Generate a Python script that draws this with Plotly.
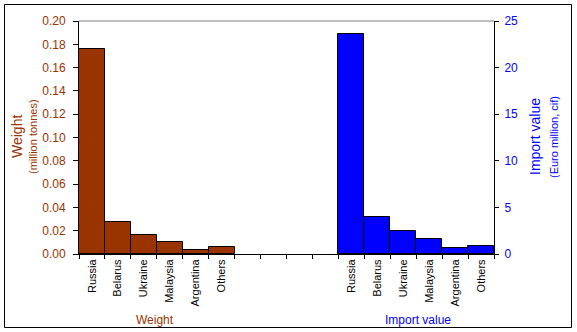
import plotly.graph_objects as go

# Source countries shown in both groups
countries = ["Russia", "Belarus", "Ukraine", "Malaysia", "Argentina", "Others"]
weight_mt = [0.1757, 0.0272, 0.0160, 0.0100, 0.0032, 0.0058]      # million tonnes
import_eur = [23.57, 3.94, 2.43, 1.58, 0.61, 0.83]                 # Euro million, cif
n_gap = 4                                                           # empty slots between groups

BROWN = "#993300"
BLUE = "#0000FF"
FONT = "Arial, Liberation Sans, sans-serif"

n = len(countries)
x_weight = list(range(n))
x_import = list(range(n + n_gap, 2 * n + n_gap))
n_slots = 2 * n + n_gap
tick_labels = countries + [""] * n_gap + countries

fig = go.Figure()
fig.add_trace(go.Bar(
    x=x_weight, y=weight_mt, width=1, yaxis="y",
    marker=dict(color=BROWN, line=dict(color="black", width=1)),
    name="Weight", showlegend=False,
))
fig.add_trace(go.Bar(
    x=x_import, y=import_eur, width=1, yaxis="y2",
    marker=dict(color=BLUE, line=dict(color="black", width=1)),
    name="Import value", showlegend=False,
))

L, R, T, B = 79, 83, 21, 78
W, H = 577, 332
pw, ph = W - L - R, H - T - B

def px_x(px):
    return (px - L) / pw

def px_y(py):
    return (H - B - py) / ph

fig.update_layout(
    width=W, height=H,
    margin=dict(l=L, r=R, t=T, b=B),
    paper_bgcolor="white", plot_bgcolor="white",
    barmode="overlay", bargap=0,
    font=dict(family=FONT, size=11, color="black"),
    xaxis=dict(
        range=[-0.5, n_slots - 0.5],
        tickmode="array", tickvals=list(range(n_slots)), ticktext=tick_labels,
        tickangle=-90, ticks="", showgrid=False, zeroline=False,
        showline=True, linecolor="black", linewidth=1,
        tickfont=dict(size=11, color="black"),
    ),
    # separate axis carrying the category-boundary tick marks
    xaxis2=dict(
        overlaying="x", side="bottom", anchor="y",
        range=[-0.5, n_slots - 0.5],
        tickmode="array", tickvals=[i - 0.5 for i in range(n_slots + 1)],
        ticktext=[""] * (n_slots + 1),
        ticks="outside", ticklen=4, tickcolor="black", tickwidth=1,
        showgrid=False, zeroline=False, showline=False,
    ),
    yaxis=dict(
        range=[0, 0.20], tickmode="array",
        tickvals=[i * 0.02 for i in range(11)],
        ticktext=[f"{i * 0.02:.2f}" for i in range(11)],
        ticks="outside", ticklen=5, tickcolor="black",
        ticklabelstandoff=5,
        showline=True, linecolor="black", linewidth=1,
        showgrid=False, zeroline=False,
        tickfont=dict(size=12, color=BROWN),
    ),
    yaxis2=dict(
        range=[0, 25], overlaying="y", side="right",
        tickmode="array", tickvals=[0, 5, 10, 15, 20, 25],
        ticks="outside", ticklen=4, tickcolor="black",
        ticklabelstandoff=3,
        showline=True, linecolor="black", linewidth=1,
        showgrid=False, zeroline=False,
        tickfont=dict(size=12, color=BLUE),
    ),
)

# dummy trace so the tick-mark axis is rendered
fig.add_trace(go.Scatter(x=[0], y=[0], xaxis="x2", mode="markers",
                         marker=dict(opacity=0), showlegend=False, hoverinfo="skip"))

# top border of the plot area and outer chart frame
fig.add_shape(type="line", xref="paper", yref="paper", x0=0, x1=1, y0=1, y1=1,
              line=dict(color="#808080", width=1))
fig.add_shape(type="rect", xref="paper", yref="paper",
              x0=px_x(4.5), x1=px_x(571.5), y0=px_y(327.5), y1=px_y(4.5),
              line=dict(color="black", width=1), fillcolor="rgba(0,0,0,0)", layer="below")

ann = [
    dict(text="Weight", x=px_x(17), y=px_y(137), size=14, color=BROWN, angle=-90),
    dict(text="(million tonnes)", x=px_x(33), y=px_y(137), size=11, color=BROWN, angle=-90),
    dict(text="Import value", x=px_x(535), y=px_y(137), size=14, color=BLUE, angle=-90),
    dict(text="(Euro million, cif)", x=px_x(554), y=px_y(137), size=11, color=BLUE, angle=-90),
    dict(text="Weight", x=px_x(155), y=px_y(320), size=12, color=BROWN, angle=0),
    dict(text="Import value", x=px_x(418), y=px_y(320), size=12, color=BLUE, angle=0),
]
for a in ann:
    fig.add_annotation(text=a["text"], x=a["x"], y=a["y"], xref="paper", yref="paper",
                       showarrow=False, textangle=a["angle"],
                       xanchor="center", yanchor="middle",
                       font=dict(family=FONT, size=a["size"], color=a["color"]))

fig.write_html("out.html")
